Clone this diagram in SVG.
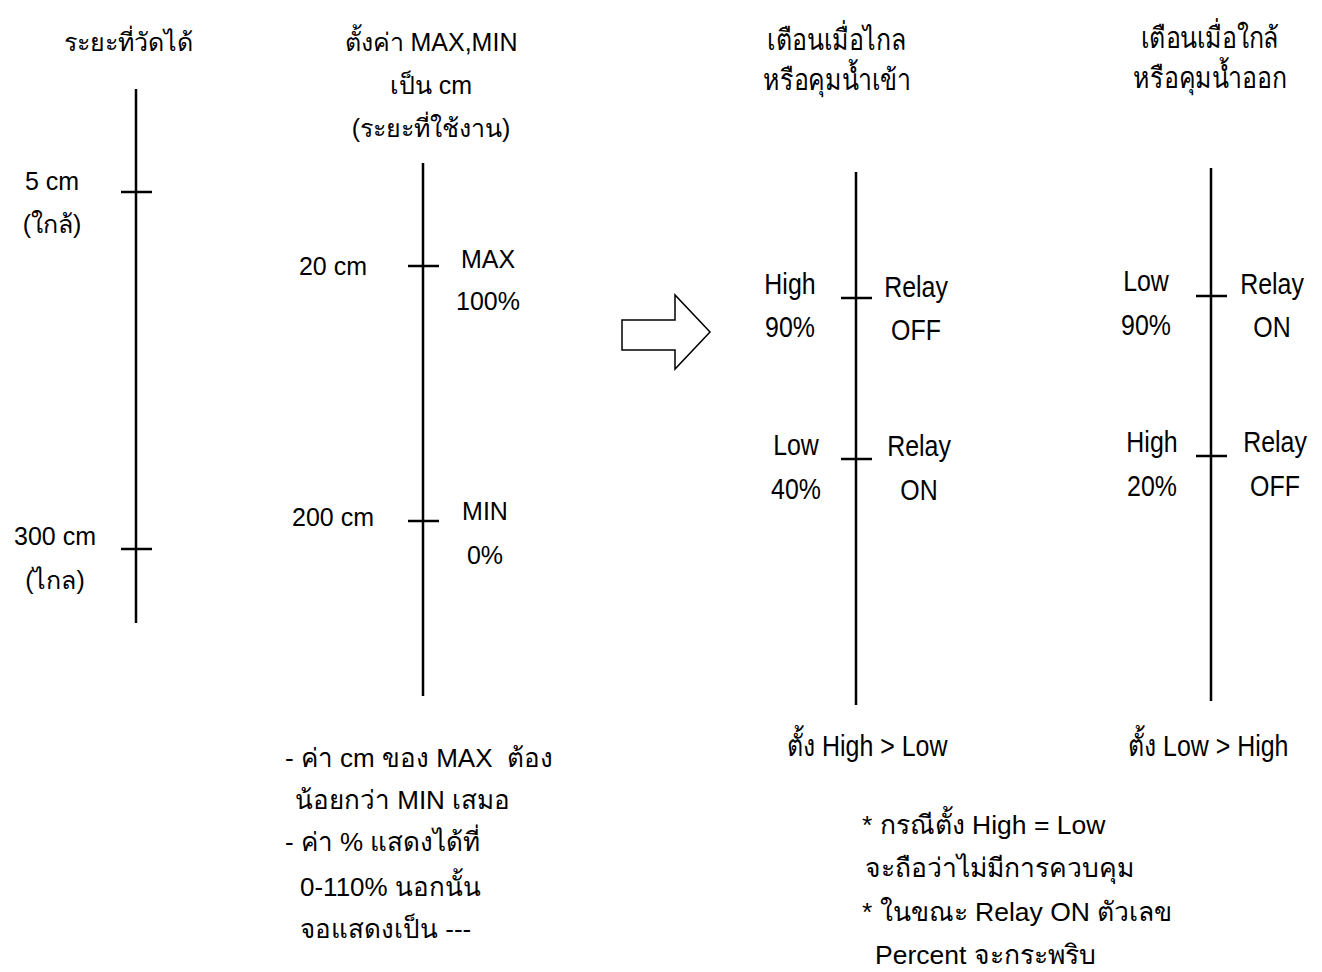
<svg xmlns="http://www.w3.org/2000/svg" width="1322" height="972" viewBox="0 0 1322 972">
<style>
.t{font-family:"Liberation Sans","Noto Sans","DejaVu Sans",sans-serif;font-size:25px;fill:#000}
.b{font-size:26px}
.c{font-size:26.5px}
.n{font-family:"Liberation Sans","Noto Sans","DejaVu Sans",sans-serif;font-size:29px;fill:#000}
.m{text-anchor:middle}
.ax{stroke:#000;stroke-width:2.5;fill:none}
</style>
<rect width="1322" height="972" fill="#fff"/>
<g id="connectors">
<line class="ax" x1="136" y1="89" x2="136" y2="623"/>
<line class="ax" x1="121" y1="192" x2="152" y2="192"/>
<line class="ax" x1="121" y1="549" x2="152" y2="549"/>
<line class="ax" x1="423" y1="163" x2="423" y2="696"/>
<line class="ax" x1="408" y1="266" x2="439" y2="266"/>
<line class="ax" x1="408" y1="521" x2="439" y2="521"/>
<line class="ax" x1="856" y1="172" x2="856" y2="705"/>
<line class="ax" x1="841" y1="298" x2="872" y2="298"/>
<line class="ax" x1="841" y1="459" x2="872" y2="459"/>
<line class="ax" x1="1211" y1="168" x2="1211" y2="701"/>
<line class="ax" x1="1196" y1="296" x2="1227" y2="296"/>
<line class="ax" x1="1196" y1="456" x2="1227" y2="456"/>
</g>
<g id="arrow">
<path d="M622,320 L675,320 L675,295 L710,332 L675,369 L675,350 L622,350 Z" fill="#fff" stroke="#000" stroke-width="1.5"/>
</g>
<g id="col1">
<text class="t m" x="128" y="51">ระยะที่วัดได้</text>
<text class="t m" x="52" y="190">5 cm</text>
<text class="t m" x="52" y="233">(ใกล้)</text>
<text class="t m" x="55" y="545">300 cm</text>
<text class="t m" x="55" y="589">(ไกล)</text>
</g>
<g id="col2">
<text class="t m" x="431" y="51">ตั้งค่า MAX,MIN</text>
<text class="t m" x="431" y="94">เป็น cm</text>
<text class="t m" x="431" y="137">(ระยะที่ใช้งาน)</text>
<text class="t m" x="333" y="275">20 cm</text>
<text class="t m" x="488" y="268">MAX</text>
<text class="t m" x="488" y="310">100%</text>
<text class="t m" x="333" y="526">200 cm</text>
<text class="t m" x="485" y="520">MIN</text>
<text class="t m" x="485" y="564">0%</text>
</g>
<g id="col3">
<text class="n m" transform="translate(837,50) scale(0.86,1)">เตือนเมื่อไกล</text>
<text class="n m" transform="translate(837,90) scale(0.86,1)">หรือคุมน้ำเข้า</text>
<text class="n m" transform="translate(790,294) scale(0.86,1)">High</text>
<text class="n m" transform="translate(790,337) scale(0.86,1)">90%</text>
<text class="n m" transform="translate(916,297) scale(0.86,1)">Relay</text>
<text class="n m" transform="translate(916,340) scale(0.86,1)">OFF</text>
<text class="n m" transform="translate(796,455) scale(0.86,1)">Low</text>
<text class="n m" transform="translate(796,499) scale(0.86,1)">40%</text>
<text class="n m" transform="translate(919,456) scale(0.86,1)">Relay</text>
<text class="n m" transform="translate(919,500) scale(0.86,1)">ON</text>
<text class="n m" transform="translate(867,756) scale(0.86,1)">ตั้ง High &gt; Low</text>
</g>
<g id="col4">
<text class="n m" transform="translate(1210,48) scale(0.86,1)">เตือนเมื่อใกล้</text>
<text class="n m" transform="translate(1210,88) scale(0.86,1)">หรือคุมน้ำออก</text>
<text class="n m" transform="translate(1146,291) scale(0.86,1)">Low</text>
<text class="n m" transform="translate(1146,335) scale(0.86,1)">90%</text>
<text class="n m" transform="translate(1272,294) scale(0.86,1)">Relay</text>
<text class="n m" transform="translate(1272,337) scale(0.86,1)">ON</text>
<text class="n m" transform="translate(1152,452) scale(0.86,1)">High</text>
<text class="n m" transform="translate(1152,496) scale(0.86,1)">20%</text>
<text class="n m" transform="translate(1275,452) scale(0.86,1)">Relay</text>
<text class="n m" transform="translate(1275,496) scale(0.86,1)">OFF</text>
<text class="n m" transform="translate(1208,756) scale(0.86,1)">ตั้ง Low &gt; High</text>
</g>
<g id="notes-left">
<text class="t b" x="285" y="767" xml:space="preserve">- ค่า cm ของ MAX  ต้อง</text>
<text class="t b" x="295" y="809">น้อยกว่า MIN เสมอ</text>
<text class="t b" x="285" y="851">- ค่า % แสดงได้ที่</text>
<text class="t b" x="300" y="896">0-110% นอกนั้น</text>
<text class="t b" x="300" y="938">จอแสดงเป็น ---</text>
</g>
<g id="notes-right">
<text class="t c" x="862" y="834">* กรณีตั้ง High = Low</text>
<text class="t c" x="865" y="877">จะถือว่าไม่มีการควบคุม</text>
<text class="t c" x="862" y="921">* ในขณะ Relay ON ตัวเลข</text>
<text class="t c" x="875" y="964">Percent จะกระพริบ</text>
</g>
</svg>
